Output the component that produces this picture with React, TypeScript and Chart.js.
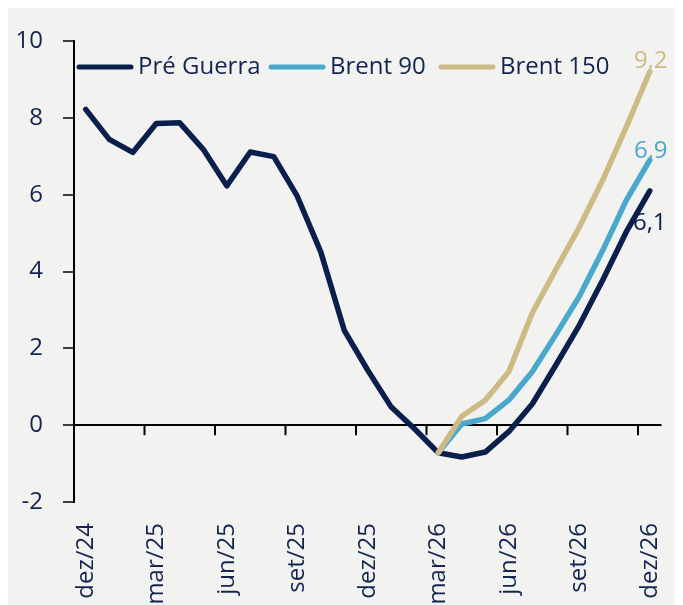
import React, { useEffect, useRef } from "react";
import { Chart, registerables } from "chart.js";

Chart.register(...registerables);

const categories = [
  "dez/24", "jan/25", "fev/25", "mar/25", "abr/25", "mai/25", "jun/25", "jul/25", "ago/25",
  "set/25", "out/25", "nov/25", "dez/25", "jan/26", "fev/26", "mar/26", "abr/26", "mai/26",
  "jun/26", "jul/26", "ago/26", "set/26", "out/26", "nov/26", "dez/26",
];

const preGuerra = [
  8.22, 7.44, 7.1, 7.85, 7.87, 7.18, 6.23, 7.11, 6.99, 5.96, 4.51, 2.47, 1.43, 0.47, -0.1,
  -0.72, -0.83, -0.7, -0.17, 0.55, 1.56, 2.6, 3.78, 5.03, 6.1,
];

const brent90 = [
  null, null, null, null, null, null, null, null, null, null, null, null, null, null, null,
  -0.72, 0.03, 0.17, 0.65, 1.39, 2.35, 3.35, 4.55, 5.85, 6.9,
];

const brent150 = [
  null, null, null, null, null, null, null, null, null, null, null, null, null, null, null,
  -0.72, 0.23, 0.65, 1.39, 2.92, 4.05, 5.15, 6.38, 7.76, 9.2,
];

const seriesNames = ["Pré Guerra", "Brent 90", "Brent 150"];
const endLabels = ["6,1", "6,9", "9,2"];
const yMin = -2;
const yMax = 10;
const yStep = 2;

const NAVY = "#0b1f4d";
const BLUE = "#4aa8cc";
const TAN = "#cdbb85";
const TEXT = "#12244f";
const FONT = "'Open Sans', 'Noto Sans', sans-serif";

export default function App() {
  const ref = useRef<HTMLCanvasElement | null>(null);

  useEffect(() => {
    document.body.style.overflow = "hidden";
    const canvas = ref.current;
    if (!canvas) return;

    const overlay = {
      id: "overlay",
      afterDatasetsDraw(chart: any) {
        const { ctx, chartArea, scales } = chart;
        const x = scales.x;
        const y = scales.y;
        const y0 = y.getPixelForValue(0);
        const half = (x.getPixelForValue(1) - x.getPixelForValue(0)) / 2;
        ctx.save();
        ctx.strokeStyle = "#000";
        ctx.lineWidth = 2;
        for (let i = 3; i < categories.length; i += 3) {
          const px = x.getPixelForValue(i) - half;
          ctx.beginPath();
          ctx.moveTo(px, y0);
          ctx.lineTo(px, y0 + 10);
          ctx.stroke();
        }
        // end labels
        ctx.font = `24px ${FONT}`;
        ctx.textAlign = "center";
        ctx.textBaseline = "alphabetic";
        const last = categories.length - 1;
        const lx = x.getPixelForValue(last) + 1;
        ctx.fillStyle = TAN;
        ctx.fillText(endLabels[2], lx, y.getPixelForValue(brent150[last] as number) - 4);
        ctx.fillStyle = BLUE;
        ctx.fillText(endLabels[1], lx, y.getPixelForValue(brent90[last] as number) - 2);
        ctx.fillStyle = NAVY;
        ctx.fillText(endLabels[0], lx - 1, y.getPixelForValue(preGuerra[last]) + 39);

        // legend
        const items = [
          { label: seriesNames[0], color: NAVY, dx: 3 },
          { label: seriesNames[1], color: BLUE, dx: 195 },
          { label: seriesNames[2], color: TAN, dx: 365 },
        ];
        const ly = chartArea.top + 26;
        ctx.lineCap = "round";
        ctx.textAlign = "left";
        ctx.textBaseline = "middle";
        for (const it of items) {
          const sx = chartArea.left + it.dx;
          ctx.strokeStyle = it.color;
          ctx.lineWidth = 5;
          ctx.beginPath();
          ctx.moveTo(sx + 2, ly);
          ctx.lineTo(sx + 54, ly);
          ctx.stroke();
          ctx.fillStyle = TEXT;
          ctx.fillText(it.label, sx + 61, ly);
        }
        ctx.restore();
      },
    };

    const lineDs = (label: string, data: any[], color: string, order: number) => ({
      label,
      data,
      borderColor: color,
      backgroundColor: color,
      borderWidth: 5.5,
      pointRadius: 0,
      borderCapStyle: "round" as const,
      borderJoinStyle: "round" as const,
      tension: 0,
      spanGaps: false,
      order,
    });

    const chart = new Chart(canvas, {
      type: "line",
      data: {
        labels: categories,
        datasets: [
          lineDs(seriesNames[0], preGuerra, NAVY, 2),
          lineDs(seriesNames[1], brent90, BLUE, 1),
          lineDs(seriesNames[2], brent150, TAN, 0),
        ],
      },
      options: {
        responsive: false,
        animation: false,
        layout: { padding: { top: 33, right: 13.5, left: 0, bottom: 0 } },
        plugins: {
          legend: { display: false },
          tooltip: { enabled: false },
        },
        scales: {
          x: {
            type: "category",
            offset: true,
            grid: { display: false, drawTicks: false },
            border: { display: false },
            ticks: {
              autoSkip: false,
              minRotation: 90,
              maxRotation: 90,
              padding: 21,
              color: TEXT,
              font: { size: 24, family: FONT },
              callback: (_v: any, i: number) => (i % 3 === 0 ? categories[i] : ""),
            },
            afterFit: (s: any) => {
              s.height = 103;
              s.paddingLeft = 0;
              s.paddingRight = 0;
            },
          },
          y: {
            min: yMin,
            max: yMax,
            ticks: {
              stepSize: yStep,
              padding: 20,
              color: TEXT,
              font: { size: 24, family: FONT },
            },
            grid: {
              drawOnChartArea: true,
              color: (c: any) => (c.tick && c.tick.value === 0 ? "#000" : "rgba(0,0,0,0)"),
              lineWidth: 2,
              drawTicks: true,
              tickLength: 11,
              tickColor: "#000",
              tickWidth: 1.5,
            },
            border: { display: true, color: "#000", width: 2 },
            afterFit: (s: any) => {
              s.width = 66;
              s.paddingTop = 0;
              s.paddingBottom = 0;
            },
          },
        },
      },
      plugins: [overlay],
    });

    return () => chart.destroy();
  }, []);

  return (
    <div style={{ width: 667, height: 597, background: "#f2f2f1" }}>
      <canvas ref={ref} width={667} height={597} style={{ display: "block" }} />
    </div>
  );
}
